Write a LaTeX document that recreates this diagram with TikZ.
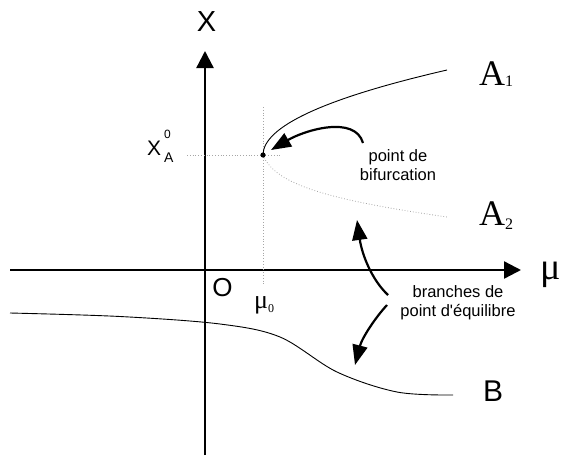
\documentclass[tikz,border=0pt]{standalone}
\usepackage{fontspec}
\setmainfont{Liberation Sans}
\newfontfamily\timesfont{Liberation Serif}
\usetikzlibrary{arrows.meta}

\begin{document}
\begin{tikzpicture}[x=1pt, y=-1pt,
  axis/.style={line width=2.3pt, -{Triangle[length=17pt,width=17pt]}},
  arr/.style={line width=2.2pt, -{Triangle[length=20pt,width=15pt]}},
  guide/.style={gray!70, dotted, line width=0.8pt},
  branch/.style={line width=0.9pt},
  lbl/.style={inner sep=0pt, font=\fontsize{29}{29}\selectfont},
  note/.style={align=center, inner sep=0pt, font=\fontsize{16.5}{19}\selectfont}]
\useasboundingbox (0,0) rectangle (561,455);
% axes
\coordinate (xl) at (10,270);
\coordinate (xr) at (521,270);
\coordinate (yb) at (205,455);
\coordinate (yt) at (205,51);
\draw[axis] (xl) -- (xr);
\draw[axis] (yb) -- (yt);
\node[lbl] (xlab) at (206.5,22) {X};
\node[lbl, font=\fontsize{26}{26}\selectfont] (olab) at (222.5,288) {O};
\node[anchor=base west, inner sep=0pt, font=\timesfont\fontsize{38}{38}\selectfont] (mulab) at (540,279) {μ};
% bifurcation point and guides
\coordinate (bif) at (263,155);
\coordinate (vtop) at (263,107);
\coordinate (vbot) at (263,285);
\coordinate (hl) at (187,155);
\coordinate (hr) at (280,155);
\draw[guide] (vtop) -- (vbot);
\draw[guide] (hl) -- (hr);
\node[anchor=base west, inner sep=0pt] (xa) at (147,155) {\fontsize{21}{21}\selectfont X\hspace{3pt}\rlap{\raisebox{-7pt}{\fontsize{14}{14}\selectfont A}}\raisebox{17pt}{\fontsize{12}{12}\selectfont 0}};
\node[anchor=base west, inner sep=0pt, font=\timesfont] (mu0) at (254,308) {\fontsize{26}{26}\selectfont μ\raisebox{-4pt}{\fontsize{12}{12}\selectfont 0}};
% branches
\coordinate (a1end) at (447,70);
\coordinate (a2end) at (447,217);
\draw[branch] (bif) .. controls (263,126.7) and (324.3,98.3) .. (a1end);
\draw[guide] (bif) .. controls (275,185) and (330,200) .. (a2end);
\fill (bif) circle (2.6);
\draw[branch] plot[smooth, tension=0.55] coordinates {(10,313) (120,316.5) (220,324) (280,337) (337,372) (397,392) (453,395)};
\node[anchor=base west, inner sep=0pt, font=\timesfont\fontsize{36}{36}\selectfont] (a1) at (479,85) {A\raisebox{-1pt}{\fontsize{16}{16}\selectfont 1}};
\node[anchor=base west, inner sep=0pt, font=\timesfont\fontsize{36}{36}\selectfont] (a2) at (479,225) {A\raisebox{-4pt}{\fontsize{16}{16}\selectfont 2}};
\node[lbl, font=\fontsize{30}{30}\selectfont] (blab) at (493,391) {B};
% notes
\node[note] (bifnote) at (398,165) {point de\\bifurcation};
\node[note] (branote) at (458,303) {branches de\\point d\textquotesingle équilibre};
\coordinate (s1) at (363,143);
\coordinate (t1) at (271,150);
\coordinate (s2) at (388,295);
\coordinate (t2) at (357,220);
\coordinate (s3) at (387,305);
\coordinate (t3) at (355,365);
\draw[arr] (s1) .. controls (355,115) and (305,130) .. (t1);
\draw[arr] (s2) .. controls (372,280) and (362,255) .. (t2);
\draw[arr] (s3) .. controls (375,318) and (362,338) .. (t3);
\end{tikzpicture}
\end{document}
